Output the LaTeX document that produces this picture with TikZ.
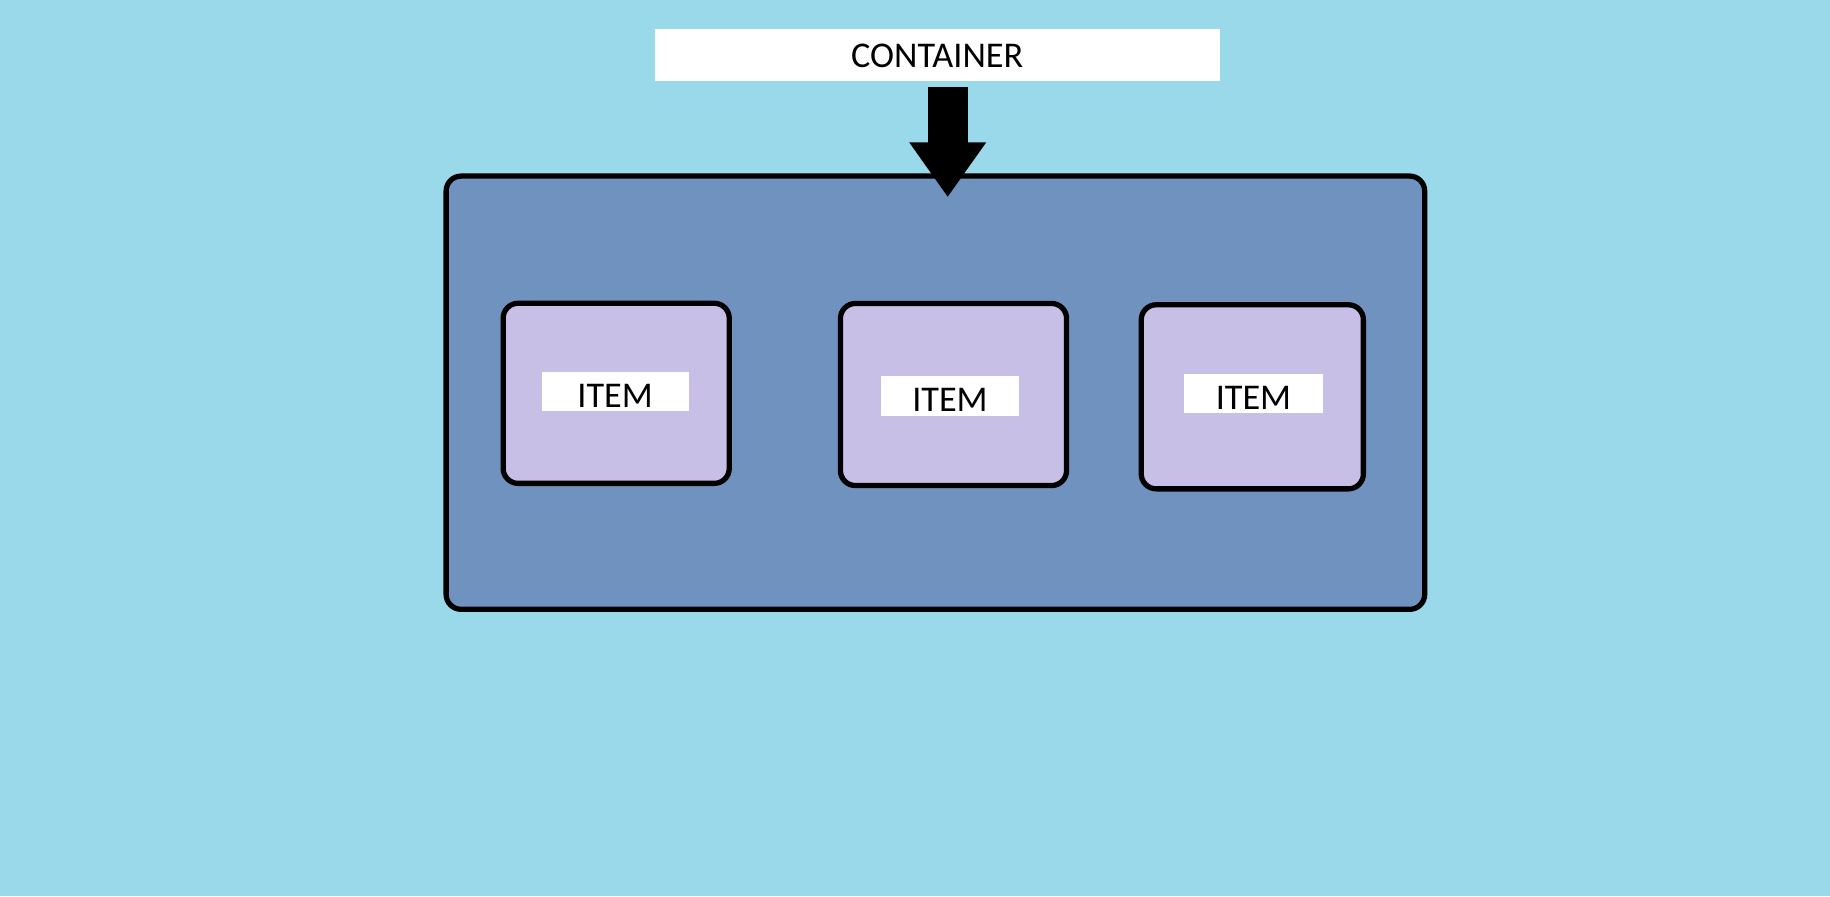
\documentclass[tikz,border=0pt]{standalone}
\usepackage{fontspec}
\setmainfont{Carlito}
\usetikzlibrary{arrows.meta}
\definecolor{bgblue}{RGB}{153,217,234}
\definecolor{boxblue}{RGB}{112,146,190}
\definecolor{itemlilac}{RGB}{200,191,231}

\begin{document}
\begin{tikzpicture}[x=0.01cm, y=-0.01cm,
	txt/.style={fill=white, inner sep=0pt, text depth=0pt, text height=#1, font=\fontsize{10.3}{12}\selectfont},
	txt/.default=9.2pt,
	holder/.style={draw=black, line width=1.5pt, rounded corners=0.15cm, fill=#1, inner sep=0pt},
	bigarrow/.style={line width=0.396cm, -{Triangle[width=0.73cm, length=0.548cm]}}]
	\fill[bgblue] (0, 0) rectangle (1830, 896);
	\useasboundingbox (0, 0) rectangle (1830, 896);
	\node [holder=boxblue, minimum width=9.78cm, minimum height=4.33cm] (box) at (935.4, 392.7) {};
	\node [holder=itemlilac, minimum width=2.26cm, minimum height=1.80cm] (item1) at (616.2, 393.3) {};
	\node [holder=itemlilac, minimum width=2.26cm, minimum height=1.82cm] (item2) at (953.5, 394.5) {};
	\node [holder=itemlilac, minimum width=2.22cm, minimum height=1.84cm] (item3) at (1252.3, 396.8) {};
	\node [txt, minimum width=1.47cm, minimum height=0.385cm] (lbl1) at (615.1, 391.6) {ITEM};
	\node [txt, minimum width=1.38cm, minimum height=0.397cm] (lbl2) at (950.0, 395.7) {ITEM};
	\node [txt, minimum width=1.38cm, minimum height=0.397cm] (lbl3) at (1253.5, 393.4) {ITEM};
	\node [txt=7.4pt, minimum width=5.65cm, minimum height=0.513cm] (title) at (937.2, 54.9) {CONTAINER};
	\coordinate (tip) at (947.7, 197.2);
	\draw [bigarrow, shorten <=0.06cm] (title.south -| tip) -- (tip);
\end{tikzpicture}
\end{document}
